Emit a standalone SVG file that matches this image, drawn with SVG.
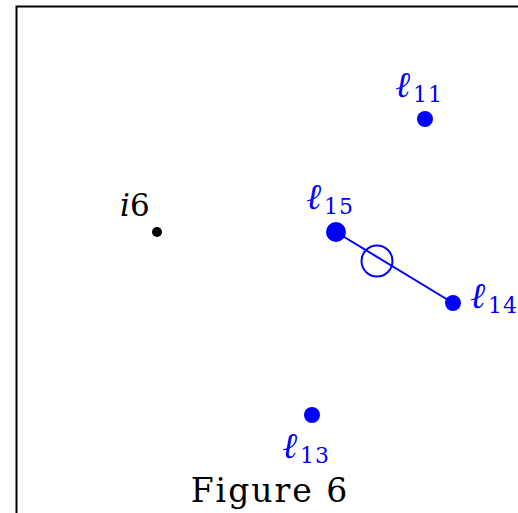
<svg xmlns="http://www.w3.org/2000/svg" width="518" height="513" viewBox="0 0 518 513">
<style>
.lbl{font-family:"DejaVu Serif","Liberation Serif",serif;font-size:30px;fill:#0000ff}
.it{font-style:italic;font-size:36px}
.sub{font-size:22px;letter-spacing:1px}
.node{fill:#0000ff}
</style>
<rect x="0" y="0" width="518" height="513" fill="#fff"/>
<path d="M16.5 520 V6.5 H530" fill="none" stroke="#000" stroke-width="2"/>
<g id="connectors">
<line x1="336" y1="232" x2="453" y2="303" stroke="#0000ff" stroke-width="2"/>
<circle cx="377" cy="261" r="15.5" fill="none" stroke="#0000ff" stroke-width="2"/>
</g>
<g id="i6">
<circle cx="157" cy="232" r="5" fill="#000"/>
<text x="120" y="216" class="lbl" style="fill:#000;font-size:31px"><tspan style="font-style:italic">i</tspan>6</text>
</g>
<g id="l11">
<circle cx="425" cy="119" r="8" class="node"/>
<text x="395" y="97" class="lbl"><tspan class="it">ℓ</tspan><tspan class="sub" dx="3" dy="5">11</tspan></text>
</g>
<g id="l15">
<circle cx="336" cy="232" r="10" class="node"/>
<text x="306" y="209" class="lbl"><tspan class="it">ℓ</tspan><tspan class="sub" dx="3" dy="5">15</tspan></text>
</g>
<g id="l14">
<circle cx="453" cy="303" r="8" class="node"/>
<text x="470" y="308" class="lbl"><tspan class="it">ℓ</tspan><tspan class="sub" dx="3" dy="5">14</tspan></text>
</g>
<g id="l13">
<circle cx="312" cy="415" r="8" class="node"/>
<text x="282" y="458" class="lbl"><tspan class="it">ℓ</tspan><tspan class="sub" dx="3" dy="5">13</tspan></text>
</g>
<text x="270" y="502" text-anchor="middle" style="font-family:'DejaVu Serif','Liberation Serif',serif;font-size:33px;letter-spacing:2px" fill="#000">Figure 6</text>
</svg>
